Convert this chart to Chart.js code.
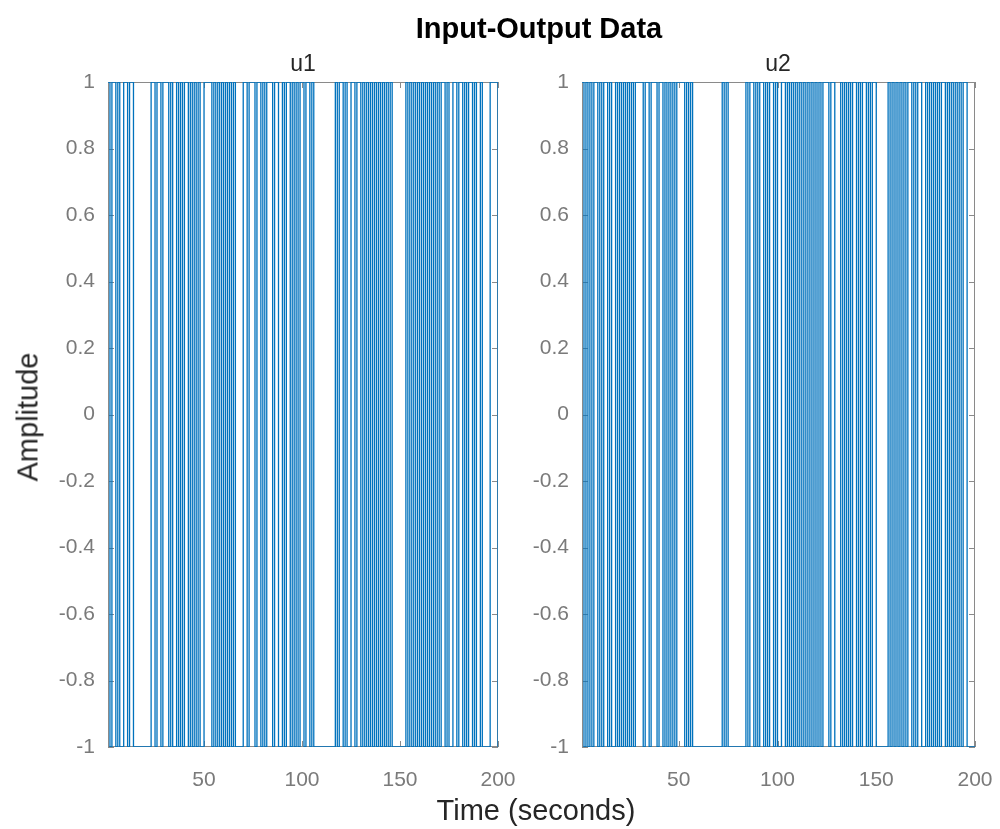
<!DOCTYPE html>
<html>
<head>
<meta charset="utf-8">
<script src="https://cdn.jsdelivr.net/npm/chart.js@4.4.0/dist/chart.umd.min.js"></script>
<style>
    body { margin: 0; background: #fff; font-family: 'Liberation Sans', Arial, sans-serif; }
    #wrap { position: relative; width: 1000px; height: 829px; overflow: hidden; }
    canvas { position: absolute; top: 0; }
    .txt { position: absolute; white-space: nowrap; transform: translate(-50%, -50%); }
    #title { left: 539px; top: 28px; font-size: 29px; font-weight: bold; color: #000; }
    .sub { top: 63px; font-size: 23px; color: #262626; }
    #ylab { left: 28px; top: 417px; font-size: 29px; color: #262626; transform: translate(-50%, -50%) rotate(-90deg); }
    #xlab { left: 536px; top: 810px; font-size: 29px; color: #262626; }
</style>
</head>
<body>
<div id="wrap">
    <canvas id="c1" width="540" height="800" style="left:0"></canvas>
    <canvas id="c2" width="500" height="800" style="left:500px"></canvas>
    <div id="title" class="txt">Input-Output Data</div>
    <div class="txt sub" style="left:303px">u1</div>
    <div class="txt sub" style="left:778px">u2</div>
    <div id="ylab" class="txt">Amplitude</div>
    <div id="xlab" class="txt">Time (seconds)</div>
</div>
<script>
// sample times (Ts = 1 s)
const time = Array.from({ length: 200 }, (_, i) => i + 1);

// input u1
const u1Values = [
    1, -1, 1, 1, -1, 1, -1, -1, 1, 1, -1, 1, 1,
    -1, -1, -1, -1, -1, -1, -1, -1, -1,
    1, 1, -1, 1, 1, -1, 1, 1,
    1, -1, 1, -1, -1, 1, -1, 1, -1, 1, 1, -1, 1, -1, 1, -1, 1, -1, -1, 1,
    1, 1, 1,
    -1, 1, -1, 1, -1, 1, -1, 1, -1, 1, -1, 1,
    -1, -1, -1, -1,
    1, 1, -1, 1, 1, 1, -1, 1, 1, -1, 1, -1, 1, 1, 1, -1, 1, 1, -1, -1, 1, -1, 1, 1, -1, 1, -1, 1, -1, 1,
    1, -1, 1, 1, -1, 1,
    -1, -1, -1, -1, -1, -1, -1, -1, -1, -1, -1,
    1, -1, 1, 1, -1, 1, -1, -1, 1, 1, -1, 1, 1, -1,
    1, -1, 1, -1, 1, -1, 1, -1, 1, -1,
    1, -1, 1, -1, 1, -1,
    -1, -1, -1, -1, -1, -1,
    1, -1, 1, -1, 1, -1, 1, -1,
    1, -1, 1, -1, 1, -1, 1, -1, 1, -1, 1,
    1, -1, 1, -1, -1, 1, 1, -1, 1, 1, -1, 1, -1, 1, 1, -1, 1, -1, -1, 1, -1,
    -1, -1, -1,
    1, 1, 1, 1, -1
];

// input u2
const u2Values = [
    1, -1, 1, -1, 1, -1, 1, 1, -1, 1, -1,
    1, 1, -1, 1, -1, -1, 1, -1,
    1, -1, 1, -1, 1, -1, 1, -1, 1,
    1, 1, 1,
    -1, 1, 1, -1, 1, 1, 1, -1, 1, 1, -1, 1, -1, 1,
    -1, 1, -1, 1, 1,
    1, 1, -1, 1, -1, 1,
    -1, -1, -1, -1, -1, -1, -1, -1, -1, -1, -1, -1, -1, -1, -1,
    1, -1, 1,
    -1, -1, -1, -1, -1, -1, -1, -1, -1,
    1, -1, 1, 1, -1, 1, -1, 1, 1, -1, 1, -1, 1,
    1, -1, 1, -1, -1, 1, 1, -1, 1,
    -1, 1, -1, 1, -1, 1, -1, 1, -1, 1, -1, 1, -1,
    1, -1, 1, -1, 1,
    1, 1, -1, 1, 1,
    -1, -1, -1,
    1, -1, 1, -1, 1, -1,
    1, 1, -1, 1, -1, 1, 1, -1, 1, -1, 1, 1,
    -1, -1, -1, -1, -1, -1,
    1, -1, 1, -1, 1, -1, 1, -1, 1,
    -1, 1, 1, -1, 1, -1, 1, 1, -1, -1,
    1, -1, 1, -1, 1, -1, 1, -1, 1, 1, -1, 1, -1, 1, -1, 1, -1, 1, -1, 1, 1, -1,
    -1, -1, -1, -1
];

const xTicks = [50, 100, 150, 200];
const yTicks = [-1, -0.8, -0.6, -0.4, -0.2, 0, 0.2, 0.4, 0.6, 0.8, 1];

const lineColor = '#0072BD';
const axisColor = '#8a8a8a';
const tickColor = '#7a7a7a';

// MATLAB-like box with inward tick marks, drawn under the data
const boxPlugin = {
    id: 'box',
    beforeDatasetsDraw(chart) {
        const { ctx, chartArea: a, scales: { x, y } } = chart;
        ctx.save();
        ctx.strokeStyle = axisColor;
        ctx.lineWidth = 1;
        ctx.strokeRect(a.left + 0.5, a.top + 0.5, a.right - a.left - 1, a.bottom - a.top - 1);
        ctx.beginPath();
        xTicks.forEach(v => {
            const px = Math.round(x.getPixelForValue(v)) + 0.5;
            ctx.moveTo(px, a.bottom); ctx.lineTo(px, a.bottom - 6);
            ctx.moveTo(px, a.top); ctx.lineTo(px, a.top + 6);
        });
        yTicks.forEach(v => {
            const py = Math.round(y.getPixelForValue(v)) + 0.5;
            ctx.moveTo(a.left, py); ctx.lineTo(a.left + 6, py);
            ctx.moveTo(a.right, py); ctx.lineTo(a.right - 6, py);
        });
        ctx.stroke();
        ctx.restore();
    }
};

function makeChart(id, values, yWidth, padRight) {
    const ctx = document.getElementById(id).getContext('2d');
    return new Chart(ctx, {
        type: 'line',
        data: {
            datasets: [{
                data: time.map((t, i) => ({ x: t, y: values[i] })),
                borderColor: lineColor,
                borderWidth: 1.3,
                pointRadius: 0,
                stepped: true,
                fill: false
            }]
        },
        options: {
            responsive: false,
            animation: false,
            layout: { padding: { top: 82, right: padRight, left: 0, bottom: 0 } },
            plugins: { legend: { display: false }, tooltip: { enabled: false } },
            scales: {
                x: {
                    type: 'linear',
                    min: 1,
                    max: 200,
                    grid: { display: false, drawTicks: false },
                    border: { display: false },
                    afterBuildTicks: scale => { scale.ticks = xTicks.map(v => ({ value: v })); },
                    afterFit: scale => {
                        scale.height = 53;
                        scale.paddingLeft = 0;
                        scale.paddingRight = 0;
                    },
                    ticks: {
                        padding: 21,
                        color: tickColor,
                        font: { family: 'Liberation Sans', size: 21 },
                        maxRotation: 0,
                        autoSkip: false,
                        callback: v => String(v)
                    }
                },
                y: {
                    min: -1,
                    max: 1,
                    grid: { display: false, drawTicks: false },
                    border: { display: false },
                    afterBuildTicks: scale => { scale.ticks = yTicks.map(v => ({ value: v })); },
                    afterFit: scale => {
                        scale.width = yWidth;
                        scale.paddingTop = 0;
                        scale.paddingBottom = 0;
                    },
                    ticks: {
                        padding: 13,
                        color: tickColor,
                        font: { family: 'Liberation Sans', size: 21 },
                        callback: v => String(Math.round(v * 10) / 10)
                    }
                }
            }
        },
        plugins: [boxPlugin]
    });
}

// canvas 1 spans 0..540 -> plot area 108..498, canvas 2 spans 500..1000 -> 582..975
makeChart('c1', u1Values, 108, 42);
makeChart('c2', u2Values, 82, 25);
</script>
</body>
</html>
